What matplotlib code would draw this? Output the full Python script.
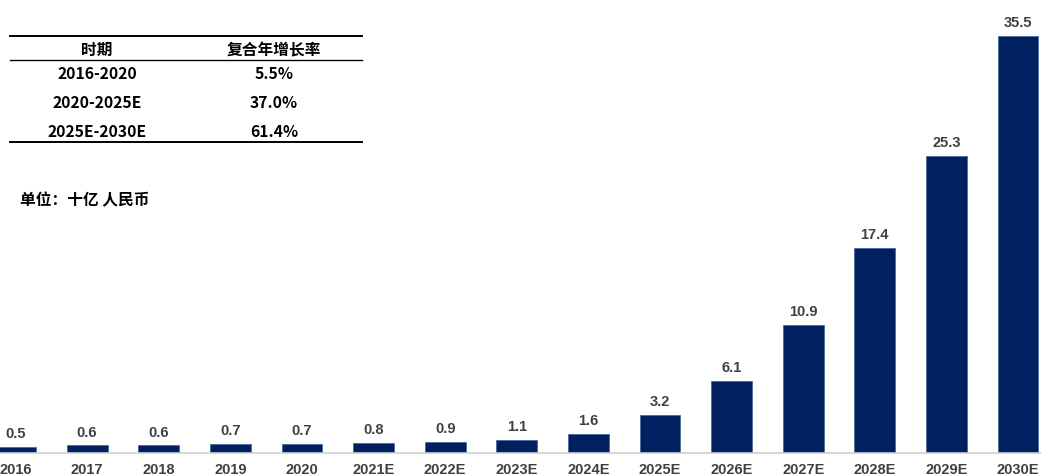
import matplotlib
matplotlib.use("Agg")
import matplotlib.pyplot as plt
from matplotlib.lines import Line2D

plt.rcParams['font.family'] = ['Liberation Sans', 'Noto Sans CJK SC', 'DejaVu Sans']

years = ["2016", "2017", "2018", "2019", "2020", "2021E", "2022E", "2023E",
         "2024E", "2025E", "2026E", "2027E", "2028E", "2029E", "2030E"]
values = [0.5, 0.6, 0.6, 0.7, 0.7, 0.8, 0.9, 1.1, 1.6, 3.2, 6.1, 10.9, 17.4, 25.3, 35.5]

cagr_header = ["时期", "复合年增长率"]
cagr_periods = ["2016-2020", "2020-2025E", "2025E-2030E"]
cagr_rates = ["5.5%", "37.0%", "61.4%"]
unit_text = "单位：十亿 人民币"

W, H = 1041, 477
fig = plt.figure(figsize=(W / 100, H / 100), dpi=100)

base_frac = (H - 453.5) / H
ax = fig.add_axes([0, base_frac, 1, 1 - base_frac])
x = list(range(len(years)))
ax.bar(x, values, width=0.57, color="#002060", edgecolor="#4a6a9a", linewidth=0.6, zorder=2)
ax.set_xlim(-0.2165, 14.32)
ax.set_ylim(0, 38.66)
ax.axis("off")

for xi, v in zip(x, values):
    ax.annotate(f"{v:.1f}", (xi, v), xytext=(0, 5), textcoords="offset points",
                ha="center", va="bottom", fontsize=10.5, fontweight="bold", color="#404040")
    ax.annotate(years[xi], (xi, 0), xytext=(0, -12), textcoords="offset points",
                ha="center", va="center", fontsize=10.5, fontweight="bold", color="#404040",
                annotation_clip=False)

# baseline
fig.add_artist(Line2D([0, 1], [base_frac, base_frac], color="#d0d0d0", linewidth=1.2, zorder=1))

# CAGR table
def fy(py):
    return 1 - py / H

def fx(px):
    return px / W

for py, lw in [(37, 1.4), (61, 1.0), (143, 1.4)]:
    fig.add_artist(Line2D([fx(10), fx(362)], [fy(py), fy(py)], color="black", linewidth=lw))

cjk = ['Noto Sans CJK SC', 'DejaVu Sans']
fs = 11.3
col1, col2 = fx(97), fx(274)
fig.text(col1, fy(50), cagr_header[0], ha="center", va="center", fontsize=fs,
         fontweight="bold", family=cjk)
fig.text(col2, fy(50), cagr_header[1], ha="center", va="center", fontsize=fs,
         fontweight="bold", family=cjk)
for py, p, r in zip([74, 103, 132], cagr_periods, cagr_rates):
    fig.text(col1, fy(py), p, ha="center", va="center", fontsize=fs, fontweight="bold", family=cjk)
    fig.text(col2, fy(py), r, ha="center", va="center", fontsize=fs, fontweight="bold", family=cjk)

fig.text(fx(20), fy(200), unit_text, ha="left", va="center", fontsize=fs,
         fontweight="bold", family=cjk)

fig.savefig("out.png", dpi=100)
